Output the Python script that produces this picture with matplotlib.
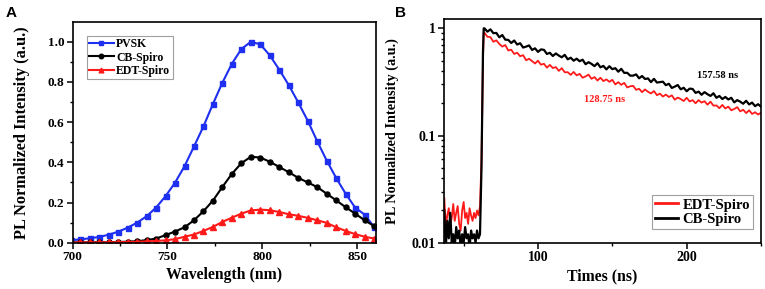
import numpy as np
import matplotlib
matplotlib.use("Agg")
import matplotlib.pyplot as plt
from matplotlib.ticker import MultipleLocator, LogLocator, FixedLocator, NullFormatter

# ---------------- Panel A data ----------------
wavelength = [699, 704, 709, 714, 719, 724, 729, 734, 739, 744, 749, 754, 759, 764, 769,
              774, 779, 784, 789, 794, 799, 804, 809, 814, 819, 824, 829, 834, 839,
              844, 849, 854, 859]
pvsk = [0.012, 0.017, 0.022, 0.029, 0.040, 0.055, 0.075, 0.100, 0.132, 0.175, 0.232, 0.299,
        0.381, 0.479, 0.579, 0.691, 0.797, 0.891, 0.964, 1.000, 0.987, 0.932, 0.861,
        0.784, 0.698, 0.607, 0.505, 0.409, 0.322, 0.244, 0.175, 0.140, 0.079]
cb_spiro = [0.001, 0.002, 0.002, 0.003, 0.003, 0.004, 0.005, 0.008, 0.013, 0.021, 0.038, 0.056,
            0.077, 0.112, 0.157, 0.210, 0.278, 0.343, 0.396, 0.428, 0.424, 0.403, 0.377,
            0.351, 0.323, 0.300, 0.277, 0.244, 0.211, 0.177, 0.145, 0.112, 0.083]
edt_spiro = [0.001, 0.002, 0.002, 0.002, 0.003, 0.003, 0.004, 0.005, 0.007, 0.009, 0.012, 0.018,
             0.030, 0.041, 0.059, 0.079, 0.104, 0.125, 0.145, 0.161, 0.165, 0.162, 0.153,
             0.142, 0.134, 0.124, 0.112, 0.099, 0.077, 0.059, 0.043, 0.030, 0.021]

# ---------------- Panel B data ----------------
t_base = [37, 38, 39, 40, 41, 42, 43, 44, 45, 46, 47, 48, 49, 50, 51, 52, 53, 54, 55, 56,
          57, 58, 59, 60, 61]
edt_base = [0.026, 0.014, 0.018, 0.021, 0.015, 0.017, 0.023, 0.016, 0.019, 0.022, 0.015, 0.013,
            0.020, 0.024, 0.017, 0.019, 0.015, 0.021, 0.018, 0.016, 0.019, 0.017, 0.020, 0.018, 0.022]
cb_base = [0.020, 0.009, 0.016, 0.011, 0.019, 0.010, 0.012, 0.009, 0.014, 0.011, 0.013, 0.009,
           0.012, 0.010, 0.014, 0.011, 0.012, 0.009, 0.013, 0.011, 0.012, 0.010, 0.013, 0.011, 0.012]
t_rise = [62, 63, 63.5]
edt_rise = [0.06, 0.50, 0.92]
cb_rise = [0.05, 0.60, 1.00]
t_decay = list(range(64, 251, 2))
edt_decay = [0.910, 0.834, 0.828, 0.749, 0.773, 0.715, 0.676, 0.698, 0.621, 0.632,
             0.577, 0.592, 0.549, 0.562, 0.504, 0.520, 0.495, 0.470, 0.499, 0.458,
             0.467, 0.430, 0.456, 0.426, 0.435, 0.401, 0.425, 0.389, 0.390, 0.368,
             0.392, 0.364, 0.376, 0.346, 0.356, 0.370, 0.338, 0.351, 0.326, 0.346,
             0.322, 0.334, 0.317, 0.331, 0.300, 0.315, 0.297, 0.310, 0.281, 0.288,
             0.291, 0.267, 0.273, 0.254, 0.269, 0.256, 0.247, 0.260, 0.238, 0.246,
             0.231, 0.241, 0.229, 0.237, 0.216, 0.226, 0.219, 0.210, 0.225, 0.208,
             0.214, 0.200, 0.214, 0.203, 0.209, 0.194, 0.207, 0.190, 0.191, 0.180,
             0.193, 0.179, 0.186, 0.172, 0.177, 0.184, 0.168, 0.174, 0.162, 0.172,
             0.159, 0.165, 0.157, 0.163]
cb_decay = [1.000, 0.931, 0.978, 0.901, 0.906, 0.825, 0.866, 0.784, 0.780, 0.730,
            0.770, 0.706, 0.726, 0.662, 0.675, 0.693, 0.629, 0.651, 0.603, 0.636,
            0.630, 0.577, 0.591, 0.552, 0.583, 0.557, 0.537, 0.566, 0.514, 0.532,
            0.499, 0.521, 0.493, 0.510, 0.463, 0.483, 0.466, 0.444, 0.473, 0.433,
            0.446, 0.414, 0.443, 0.416, 0.425, 0.394, 0.419, 0.384, 0.385, 0.362,
            0.362, 0.372, 0.342, 0.359, 0.337, 0.341, 0.315, 0.338, 0.312, 0.315,
            0.318, 0.295, 0.304, 0.278, 0.286, 0.296, 0.270, 0.279, 0.259, 0.274,
            0.272, 0.250, 0.257, 0.240, 0.254, 0.243, 0.234, 0.248, 0.225, 0.234,
            0.219, 0.229, 0.217, 0.225, 0.204, 0.214, 0.207, 0.198, 0.211, 0.195,
            0.203, 0.188, 0.196, 0.186]
lifetime_labels = ["157.58 ns", "128.75 ns"]

t_all = t_base + t_rise + t_decay
edt_all = edt_base + edt_rise + edt_decay
cb_all = cb_base + cb_rise + cb_decay

plt.rcParams['font.family'] = ['Liberation Serif', 'DejaVu Serif']
plt.rcParams['font.weight'] = 'bold'
plt.rcParams['axes.labelweight'] = 'bold'

fig = plt.figure(figsize=(7.65, 2.89), dpi=100)
axA = fig.add_axes([0.095, 0.160, 0.3965, 0.765])
axB = fig.add_axes([0.5808, 0.160, 0.414, 0.774])

def style(ax, size):
    for s in ax.spines.values():
        s.set_linewidth(1.2)
    ax.tick_params(which='major', direction='out', length=4, width=1.1, labelsize=size,
                   top=False, right=False, pad=2)
    ax.tick_params(which='minor', direction='out', length=2.2, width=1.0,
                   top=False, right=False)
    for lab in ax.get_xticklabels() + ax.get_yticklabels():
        lab.set_fontweight('bold')

# Panel A
axA.plot(wavelength, pvsk, color='#1f2ff0', lw=1.5, marker='s', ms=3.6, label='PVSK')
axA.plot(wavelength, cb_spiro, color='black', lw=1.5, marker='o', ms=3.6, label='CB-Spiro')
axA.plot(wavelength, edt_spiro, color='#ff1a1a', lw=1.5, marker='^', ms=3.8, label='EDT-Spiro')
axA.set_xlim(700, 860)
axA.set_ylim(0, 1.1)
axA.xaxis.set_major_locator(MultipleLocator(50))
axA.xaxis.set_minor_locator(MultipleLocator(25))
axA.yaxis.set_major_locator(FixedLocator([0, 0.2, 0.4, 0.6, 0.8, 1.0]))
axA.yaxis.set_minor_locator(FixedLocator([0.1, 0.3, 0.5, 0.7, 0.9]))
axA.yaxis.set_major_formatter(matplotlib.ticker.FormatStrFormatter('%.1f'))
axA.set_xlabel('Wavelength (nm)', fontsize=11.3, fontweight='bold', labelpad=3)
axA.set_ylabel('PL Normalized Intensity (a.u.)', fontsize=11.8, fontweight='bold', labelpad=13)
style(axA, 9.5)
legA = axA.legend(loc='upper left', bbox_to_anchor=(0.046, 0.935),
                  frameon=True, fancybox=False, edgecolor='#888888', handlelength=2.1,
                  handletextpad=0.2, borderpad=0.2, labelspacing=0.1, borderaxespad=0,
                  markerscale=0.9, prop={'weight': 'bold', 'size': 8.5})
legA.get_frame().set_linewidth(0.8)
fig.text(0.008, 0.955, 'A', fontsize=11, fontweight='bold', family='Liberation Sans',
         ha='left', va='center')

# Panel B
axB.plot(t_all, edt_all, color='#ff1a1a', lw=1.3, label='EDT-Spiro')
axB.plot(t_all, cb_all, color='black', lw=1.6, label='CB-Spiro')
axB.set_yscale('log')
axB.set_xlim(37, 250)
axB.set_ylim(0.01, 1.22)
axB.xaxis.set_major_locator(FixedLocator([100, 200]))
axB.xaxis.set_minor_locator(FixedLocator([50, 150, 250]))
axB.yaxis.set_major_locator(FixedLocator([0.01, 0.1, 1]))
axB.yaxis.set_major_formatter(matplotlib.ticker.FixedFormatter(['0.01', '0.1', '1']))
axB.yaxis.set_minor_locator(LogLocator(base=10, subs=np.arange(2, 10)))
axB.yaxis.set_minor_formatter(NullFormatter())
axB.set_xlabel('Times (ns)', fontsize=11.3, fontweight='bold', labelpad=3)
axB.set_ylabel('PL Normalized Intensity (a.u.)', fontsize=10.3, fontweight='bold', labelpad=9)
style(axB, 10)
legB = axB.legend(loc='lower right', bbox_to_anchor=(0.975, 0.061),
                  frameon=True, fancybox=False, edgecolor='#888888', handlelength=1.6,
                  handletextpad=0.3, borderpad=0.2, labelspacing=0.1, borderaxespad=0,
                  prop={'weight': 'bold', 'size': 10.5})
legB.get_frame().set_linewidth(0.8)
for ln in legB.get_lines():
    ln.set_linewidth(2.0)
axB.text(221, 0.367, lifetime_labels[0], color='black', fontsize=7.5, fontweight='bold',
         ha='center', va='center')
axB.text(145, 0.218, lifetime_labels[1], color='#ff1a1a', fontsize=7.5, fontweight='bold',
         ha='center', va='center')
fig.text(0.516, 0.955, 'B', fontsize=11, fontweight='bold', family='Liberation Sans',
         ha='left', va='center')

fig.savefig('out.png', dpi=100)
